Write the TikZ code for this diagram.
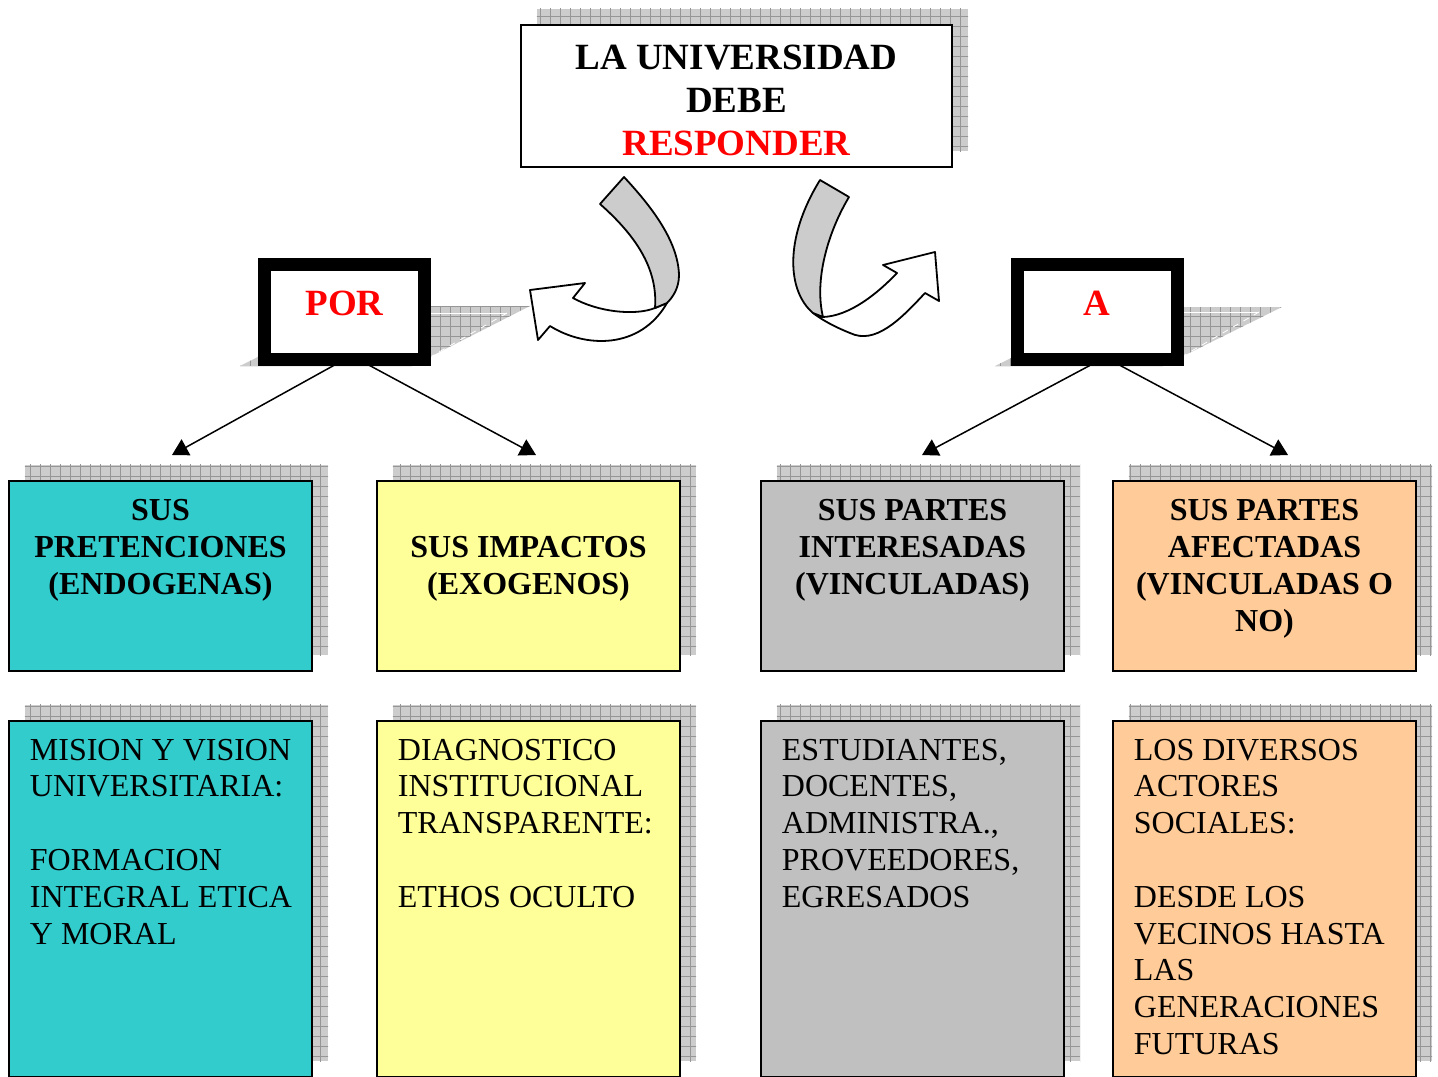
\documentclass[tikz,border=0pt]{standalone}
\usepackage{fontspec}
\setmainfont{Liberation Serif}
\usetikzlibrary{positioning, arrows.meta, patterns.meta, backgrounds}
\definecolor{TealColor}{RGB}{51,204,204}
\definecolor{YellowColor}{RGB}{255,255,153}
\definecolor{GrayColor}{RGB}{192,192,192}
\definecolor{PeachColor}{RGB}{255,204,153}
\definecolor{RibbonColor}{RGB}{204,204,204}
\definecolor{ShadowColor}{RGB}{204,204,204}
\definecolor{GridColor}{RGB}{150,150,150}
\definecolor{TitleRed}{RGB}{255,0,0}
\tikzstyle{arrow} = [line width=0.75pt, -{Triangle[length=8pt,width=9pt]}]
\tikzset{
  card/.style={draw, line width=0.9pt, inner sep=0pt, outer sep=0pt, minimum width=151.6pt},
  head card/.style={card, minimum height=95.1pt},
  list card/.style={card, minimum height=178.1pt},
  frame box/.style={draw, fill=white, line width=6.5pt, inner sep=0pt, outer sep=0pt,
    minimum width=80pt, minimum height=47.5pt, text=TitleRed,
    font=\bfseries\fontsize{18.5}{21.5}\selectfont, text height=8pt, text depth=4.3pt},
  grid shadow/.style={fill=ShadowColor,
    postaction={pattern={Hatch[distance=5pt,angle=0,line width=0.4pt]}, pattern color=GridColor}}
}
\tikzset{
  title text/.style={font=\bfseries\fontsize{18.5}{21.5}\selectfont, align=center, inner sep=0pt},
  head text/.style={font=\bfseries\fontsize{16}{18.5}\selectfont, align=center, inner sep=0pt, outer sep=0pt},
  list text/.style={font=\fontsize{16}{18.4}\selectfont, align=left, inner sep=0pt, outer sep=0pt},
  ribbon/.style={draw, line width=0.9pt, line join=round}
}

\begin{document}
\begin{tikzpicture}[x=0.5pt, y=-0.5pt]
  \useasboundingbox (0,0) rectangle (1438,1076);

  % Title
  \node[card, fill=white, minimum width=215.6pt, minimum height=71.1pt] (uni) at (736.5,96) {};
  \node[title text] (uni-t) at ([yshift=-2pt]uni.center)
    {LA UNIVERSIDAD\\DEBE\\\textcolor{TitleRed}{RESPONDER}};

  % POR / A
  \node[frame box] (por) at (344.5,312) {POR};
  \node[frame box] (aa) at (1097,312) {A};

  % Curved arrows
  \draw[ribbon, fill=white] (655,308) .. controls (635,316) and (598,312) .. (573,298)
    -- (585,283) -- (530,290) -- (538,340) -- (550,326)
    .. controls (585,348) and (640,350) .. (667,303) -- cycle;
  \draw[ribbon, fill=RibbonColor] (600,204) -- (624,177)
    .. controls (650,205) and (678,240) .. (679,275)
    .. controls (679,288) and (673,297) .. (667,303) -- (655,308)
    .. controls (658,268) and (635,235) .. (600,204) -- cycle;
  \draw[ribbon, fill=white] (823,317) .. controls (850,316) and (878,293) .. (897,273)
    -- (883,265) -- (935,252) -- (939,301) -- (925,293)
    .. controls (900,320) and (875,345) .. (850,333)
    .. controls (835,327) and (822,320) .. (813,313) -- cycle;
  \draw[ribbon, fill=RibbonColor] (820,180) -- (849,197)
    .. controls (828,232) and (814,280) .. (823,317) -- (813,313)
    .. controls (788,292) and (783,240) .. (820,180) -- cycle;

  % Header boxes
  \node[head card, fill=TealColor] (pret) at (160.5,576) {};
  \node[head card, fill=YellowColor] (impa) at (528.5,576) {};
  \node[head card, fill=GrayColor] (inte) at (912.5,576) {};
  \node[head card, fill=PeachColor] (afec) at (1264.5,576) {};
  \node[head text, below=9.25pt of pret.north] (pret-t) {SUS\\PRETENCIONES\\(ENDOGENAS)};
  \node[head text, below=27.75pt of impa.north] (impa-t) {SUS IMPACTOS\\(EXOGENOS)};
  \node[head text, below=9.25pt of inte.north] (inte-t) {SUS PARTES\\INTERESADAS\\(VINCULADAS)};
  \node[head text, below=9.25pt of afec.north] (afec-t) {SUS PARTES\\AFECTADAS\\(VINCULADAS O\\NO)};

  % List boxes
  \node[list card, fill=TealColor] (misi) at (160.5,899) {};
  \node[list card, fill=YellowColor] (diag) at (528.5,899) {};
  \node[list card, fill=GrayColor] (estu) at (912.5,899) {};
  \node[list card, fill=PeachColor] (acto) at (1264.5,899) {};
  \node[list text, below right=9pt and 10.5pt of misi.north west] (misi-t)
    {MISION Y VISION\\UNIVERSITARIA:\\\mbox{}\\FORMACION\\INTEGRAL ETICA\\Y MORAL};
  \node[list text, below right=9pt and 10.5pt of diag.north west] (diag-t)
    {DIAGNOSTICO\\INSTITUCIONAL\\TRANSPARENTE:\\\mbox{}\\ETHOS OCULTO};
  \node[list text, below right=9pt and 10.5pt of estu.north west] (estu-t)
    {ESTUDIANTES,\\DOCENTES,\\ADMINISTRA.,\\PROVEEDORES,\\EGRESADOS};
  \node[list text, below right=9pt and 10.5pt of acto.north west] (acto-t)
    {LOS DIVERSOS\\ACTORES\\SOCIALES:\\\mbox{}\\DESDE LOS\\VECINOS HASTA\\LAS\\GENERACIONES\\FUTURAS};

  % Connectors
  \coordinate (p1) at (172,455);
  \coordinate (p2) at (536,455);
  \coordinate (p3) at (922,455);
  \coordinate (p4) at (1288,455);
  \draw[arrow] (por.south) -- (p1);
  \draw[arrow] ([xshift=7pt]por.south) -- (p2);
  \draw[arrow] ([xshift=2pt]aa.south) -- (p3);
  \draw[arrow] ([xshift=6pt]aa.south) -- (p4);

  % Shadows
  \begin{scope}[on background layer]
    \foreach \n in {uni,pret,impa,inte,afec,misi,diag,estu,acto}
      \path[grid shadow] ([shift={(16,-16)}]\n.south west) rectangle ([shift={(16,-16)}]\n.north east);
    \path[grid shadow] (240,366) -- (412,366) -- (530,306) -- (358,306) -- cycle;
    \draw[white, line width=0.4pt] (431,313) -- (507,313);
    \draw[white, dashed, line width=0.4pt] (507,313) -- (432,356);
    \path[grid shadow] (995,366) -- (1163,366) -- (1282,307) -- (1114,307) -- cycle;
    \draw[white, line width=0.4pt] (1183,312) -- (1259,312);
    \draw[white, dashed, line width=0.4pt] (1259,312) -- (1183,356);
  \end{scope}
\end{tikzpicture}
\end{document}
